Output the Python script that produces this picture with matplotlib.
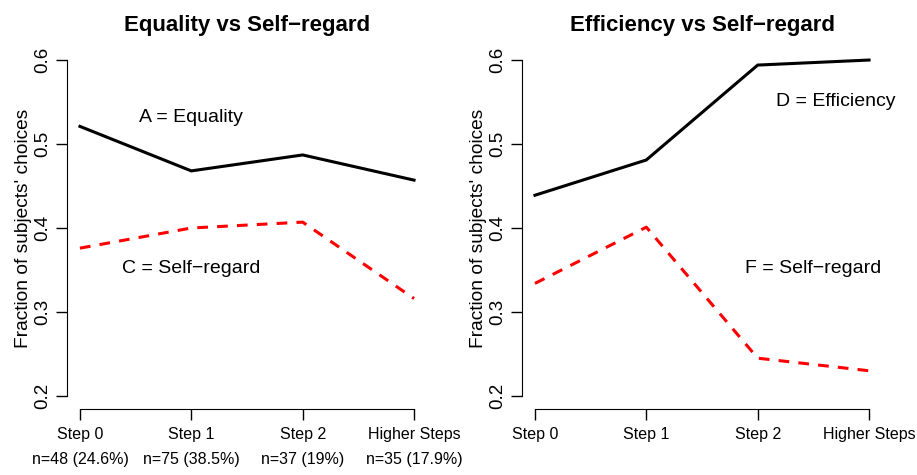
import matplotlib
matplotlib.use("Agg")
from matplotlib import pyplot as plt

plt.rcParams['font.family'] = ['Liberation Sans', 'DejaVu Sans']

steps = ['Step 0', 'Step 1', 'Step 2', 'Higher Steps']
n_labels = ['n=48 (24.6%)', 'n=75 (38.5%)', 'n=37 (19%)', 'n=35 (17.9%)']

# left panel
equality = [0.521, 0.468, 0.487, 0.457]
self_regard_c = [0.376, 0.400, 0.407, 0.316]
# right panel
efficiency = [0.439, 0.481, 0.594, 0.600]
self_regard_f = [0.334, 0.401, 0.245, 0.230]

panels = [
    ('Equality vs Self\u2212regard', equality, self_regard_c,
     ('A = Equality', 1.0, 0.531), ('C = Self\u2212regard', 1.0, 0.352)),
    ('Efficiency vs Self\u2212regard', efficiency, self_regard_f,
     ('D = Efficiency', 2.70, 0.551), ('F = Self\u2212regard', 2.50, 0.352)),
]

fig = plt.figure(figsize=(9.17, 4.75), dpi=100)
lefts = [0.0726, 0.5688]
x = list(range(len(steps)))

for left, (title, top, bottom, lab1, lab2) in zip(lefts, panels):
    ax = fig.add_axes([left, 0.1381, 0.3935, 0.7638])
    ax.plot(x, top, color='black', lw=2.2, solid_joinstyle='miter')
    ax.plot(x, bottom, color='red', lw=2.2, dashes=(3.5, 3))
    ax.set_xlim(-0.12, 3.12)
    ax.set_ylim(0.184, 0.616)
    for txt, tx, ty in (lab1, lab2):
        ax.text(tx, ty, txt, ha='center', va='center', fontsize=14)
    ax.set_title(title, fontsize=16, fontweight='bold', pad=11)
    ax.set_xticks(x)
    ax.set_xticklabels(steps, fontsize=11.5)
    ax.set_yticks([0.2, 0.3, 0.4, 0.5, 0.6])
    ax.set_yticklabels(['0.2', '0.3', '0.4', '0.5', '0.6'], fontsize=13.5,
                       rotation=90, va='center')
    ax.set_ylabel("Fraction of subjects' choices", fontsize=13.8, labelpad=2)
    for s in ('top', 'right'):
        ax.spines[s].set_visible(False)
    ax.spines['left'].set_bounds(0.2, 0.6)
    ax.spines['bottom'].set_bounds(0, 3)
    ax.tick_params(length=8, width=1)
    ax.tick_params(axis='x', pad=5)
    ax.tick_params(axis='y', pad=3)

# sample sizes under the left panel
ax0 = fig.axes[0]
for xi, lab in zip(x, n_labels):
    ax0.annotate(lab, xy=(xi, 0), xycoords=('data', 'figure fraction'),
                 xytext=(0, 11), textcoords='offset points',
                 ha='center', va='center', fontsize=11.5)

fig.savefig('out.png', dpi=100)
